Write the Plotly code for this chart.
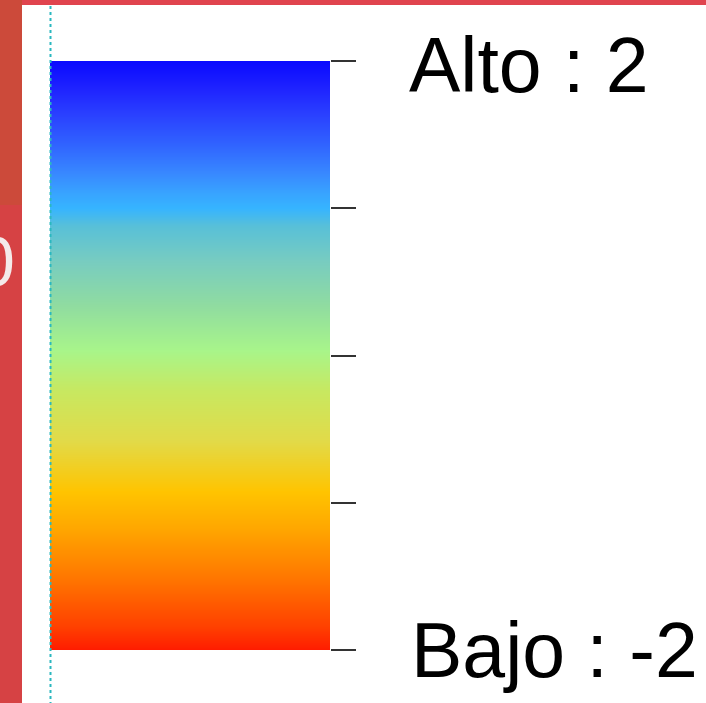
import plotly.graph_objects as go

# Data
levels = [-2, -1, 0, 1, 2]
top_label = "Alto : 2"
bottom_label = "Bajo : -2"
stub_label = "0"

# colour stops (fraction of range from -2 to 2)
stop_pos = [0.0, 0.005, 0.04, 0.125, 0.21, 0.27, 0.355, 0.44, 0.51, 0.585, 0.66, 0.72,
            0.75, 0.775, 0.81, 0.86, 0.91, 0.955, 1.0]
stop_col = ["#ff1a00", "#ff2000", "#ff4000", "#ff7800", "#ffa800", "#ffc400",
            "#e2da48", "#c8e860", "#a8f58a", "#90dca0", "#78ccc0", "#58c0d8",
            "#36b4ff", "#38a4ff", "#3888ff", "#3062ff", "#2a40ff", "#1e22ff", "#0a0aff"]

W, H = 706, 703
L, R, T, B = 50, 330, 61, 650
pw, ph = R - L, B - T


def px(x):
    return (x - L) / pw


def py(y):
    return (B - y) / ph


fig = go.Figure()
fig.add_trace(go.Heatmap(
    z=[[v, v] for v in levels],
    x=[0, 1],
    y=levels,
    zmin=-2, zmax=2,
    zsmooth="best",
    colorscale=[[p, c] for p, c in zip(stop_pos, stop_col)],
    showscale=False,
    hoverinfo="skip",
))

shapes = [
    # red background pieces
    dict(type="rect", xref="paper", yref="paper", x0=px(-5), x1=px(22), y0=py(710), y1=py(-5),
         fillcolor="#d64244", line_width=0, layer="below"),
    dict(type="rect", xref="paper", yref="paper", x0=px(-5), x1=px(711), y0=py(5), y1=py(-5),
         fillcolor="#e0444e", line_width=0, layer="below"),
    dict(type="rect", xref="paper", yref="paper", x0=px(-5), x1=px(22), y0=py(205), y1=py(-5),
         fillcolor="#cc4a3a", line_width=0, layer="below"),
    # dashed cyan guide line
    dict(type="line", xref="paper", yref="paper", x0=px(50.5), x1=px(50.5), y0=py(705), y1=py(5),
         line=dict(color="#2ab8c0", width=2, dash="3px,3px"), layer="above"),
]

annotations = [
    dict(text=top_label, xref="paper", yref="paper", x=px(407), y=py(65),
         xanchor="left", yanchor="middle", showarrow=False,
         font=dict(family="Liberation Sans, Arial", size=77, color="#000000")),
    dict(text=bottom_label, xref="paper", yref="paper", x=px(409), y=py(650),
         xanchor="left", yanchor="middle", showarrow=False,
         font=dict(family="Liberation Sans, Arial", size=77, color="#000000")),
    dict(text=stub_label, xref="paper", yref="paper", x=px(17), y=py(262),
         xanchor="right", yanchor="middle", showarrow=False,
         font=dict(family="Liberation Sans, Arial", size=70, color="#f4eaea")),
]

fig.update_layout(
    width=W, height=H,
    margin=dict(l=L, r=W - R, t=T, b=H - B, pad=0),
    paper_bgcolor="#ffffff",
    plot_bgcolor="#ffffff",
    shapes=shapes,
    annotations=annotations,
    showlegend=False,
    xaxis=dict(range=[0, 1], visible=False, fixedrange=True),
    yaxis=dict(range=[-2, 2], side="right", tickvals=levels, ticks="outside",
               ticklen=25, tickwidth=1.5, tickcolor="#333333",
               showticklabels=False, showgrid=False, zeroline=False,
               showline=False, fixedrange=True),
)

fig.write_html(
    "out.html",
    config={"displayModeBar": False},
    post_script="document.body.style.margin='0';document.body.style.overflow='hidden';",
)
